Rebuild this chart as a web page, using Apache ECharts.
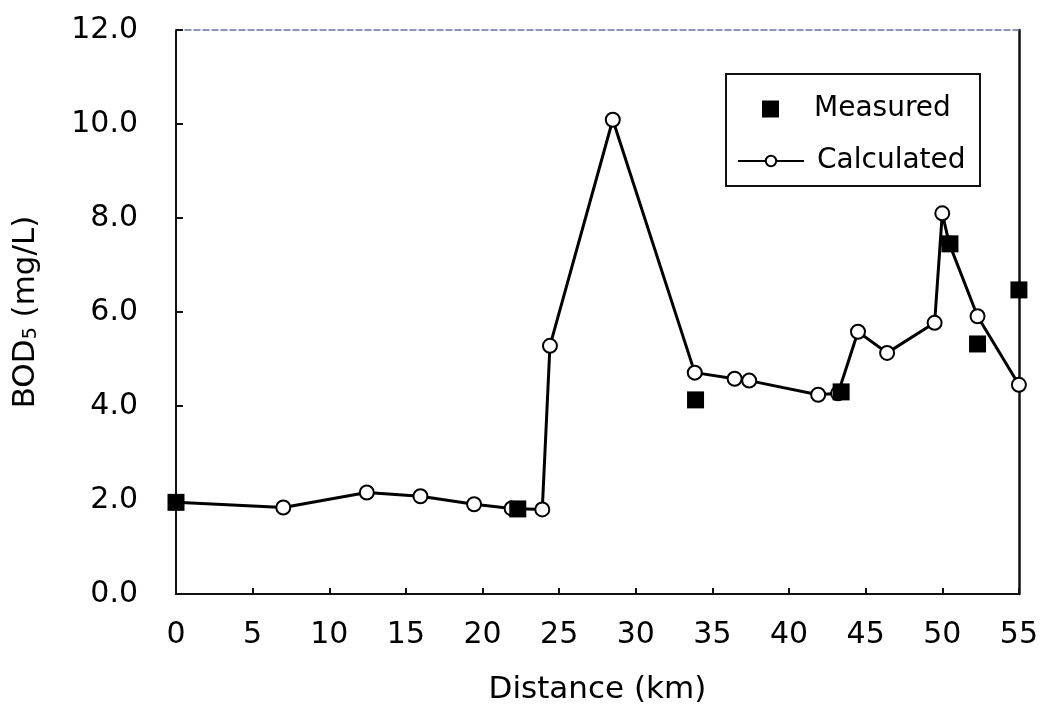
<!DOCTYPE html>
<html>
<head>
<meta charset="utf-8">
<script src="https://cdn.jsdelivr.net/npm/echarts@6/dist/echarts.min.js"></script>
<style>html,body{margin:0;padding:0;background:#fff;}#c{width:1041px;height:710px;}</style>
</head>
<body>
<div id="c"></div>
<script>
// Calculated BOD5 profile
const calcDistance = [0, 7.0, 12.45, 15.95, 19.45, 21.9, 23.9, 24.4, 28.5, 33.85, 36.45, 37.4, 41.9, 43.2, 44.5, 46.4, 49.5, 50.0, 50.45, 52.3, 55.0];
const calcBOD = [1.95, 1.84, 2.16, 2.08, 1.91, 1.82, 1.80, 5.28, 10.09, 4.71, 4.58, 4.54, 4.24, 4.27, 5.58, 5.13, 5.77, 8.10, 7.46, 5.91, 4.45];
// Measured BOD5
const measDistance = [0, 22.3, 33.9, 43.4, 50.5, 52.3, 55.0];
const measBOD = [1.95, 1.81, 4.13, 4.30, 7.45, 5.32, 6.47];
// Axis settings
const xTicks = {min: 0, max: 55, interval: 5};
const yTicks = {min: 0, max: 12, interval: 2};

const FONT = 'DejaVu Sans';
const chart = echarts.init(document.getElementById('c'), null, {renderer: 'canvas'});
const calcData = calcDistance.map((d, i) => [d, calcBOD[i]]);
const measData = measDistance.map((d, i) => [d, measBOD[i]]);

chart.setOption({
  animation: false,
  backgroundColor: '#fff',
  grid: {left: 176, right: 17, top: 30, bottom: 115, show: false},
  xAxis: [{
    type: 'value', min: xTicks.min, max: xTicks.max, interval: xTicks.interval,
    name: 'Distance (km)', nameLocation: 'middle', nameGap: 80,
    nameTextStyle: {fontFamily: FONT, fontSize: 31, color: '#000'},
    axisLine: {show: true, onZero: false, lineStyle: {color: '#111', width: 2}},
    axisTick: {show: true, inside: true, length: 6, lineStyle: {color: '#111', width: 2}},
    axisLabel: {fontFamily: FONT, fontSize: 30, color: '#000', margin: 26},
    splitLine: {show: false}
  }, {
    type: 'value', position: 'top', min: xTicks.min, max: xTicks.max,
    axisLine: {show: true, onZero: false, lineStyle: {color: '#6a70a0', width: 1.5, type: 'dashed'}},
    axisTick: {show: false}, axisLabel: {show: false}, splitLine: {show: false}
  }],
  yAxis: [{
    type: 'value', min: yTicks.min, max: yTicks.max, interval: yTicks.interval,
    name: '{a|BOD}{s|5}{a| (mg/L)}', nameLocation: 'middle', nameGap: 135, nameRotate: 90,
    nameTextStyle: {
      rich: {
        a: {fontFamily: FONT, fontSize: 31, color: '#000'},
        s: {fontFamily: FONT, fontSize: 19, color: '#000', verticalAlign: 'bottom', padding: [12, 0, 0, 0]}
      }
    },
    axisLine: {show: true, onZero: false, lineStyle: {color: '#111', width: 2}},
    axisTick: {show: true, inside: true, length: 7, lineStyle: {color: '#111', width: 2}},
    axisLabel: {fontFamily: FONT, fontSize: 30, color: '#000', margin: 38, formatter: v => v.toFixed(1)},
    splitLine: {show: false}
  }, {
    type: 'value', position: 'right', min: yTicks.min, max: yTicks.max,
    axisLine: {show: true, onZero: false, lineStyle: {color: '#111', width: 2.5}},
    axisTick: {show: false}, axisLabel: {show: false}, splitLine: {show: false}
  }],
  graphic: [{
    type: 'rect', left: 725, top: 73, z: 10,
    shape: {width: 254, height: 112},
    style: {fill: '#fff', stroke: '#111', lineWidth: 2}
  }],
  legend: [{
    data: ['Measured'], left: 757, top: 90, orient: 'vertical', z: 20,
    itemWidth: 17, itemHeight: 17, icon: 'rect',
    textStyle: {fontFamily: FONT, fontSize: 28, color: '#000', padding: [0, 0, 0, 30]}
  }, {
    data: ['Calculated'], left: 732, top: 142, orient: 'vertical', z: 20,
    itemWidth: 66, itemHeight: 13,
    textStyle: {fontFamily: FONT, fontSize: 28, color: '#000', padding: [0, 0, 0, 8]}
  }],
  series: [{
    name: 'Calculated', type: 'line', data: calcData,
    symbol: 'emptyCircle', symbolSize: 14, z: 3,
    lineStyle: {color: '#000', width: 3},
    itemStyle: {color: '#000', borderColor: '#000', borderWidth: 2.5}
  }, {
    name: 'Measured', type: 'scatter', data: measData,
    symbol: 'rect', symbolSize: 17, z: 4,
    itemStyle: {color: '#000', opacity: 1}
  }]
});
</script>
</body>
</html>
